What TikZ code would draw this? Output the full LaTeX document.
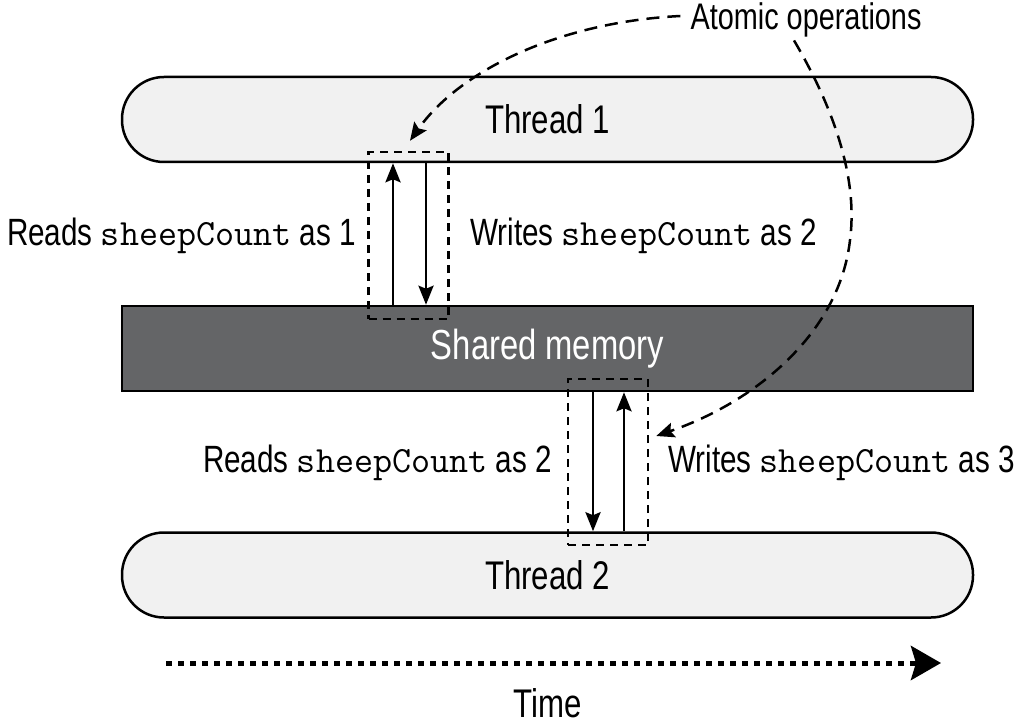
\documentclass[tikz,border=0pt]{standalone}
\usepackage{fontspec}
\setmainfont[FakeStretch=0.78]{Liberation Sans}
\usepackage{tikz}
\usetikzlibrary{arrows.meta,calc}
\usetikzlibrary{positioning}
\definecolor{threadgray}{HTML}{F1F1F1}
\definecolor{memgray}{HTML}{646567}
\newcommand{\sheep}{{\fontsize{37}{40}\selectfont\ttfamily sheepCount}}
\tikzset{
    thread/.style={
           rectangle,
           rounded corners=42pt,
           draw=black, line width=2.5pt,
           fill=threadgray,
           minimum width=851pt,
           minimum height=85pt,
           font=\fontsize{40}{48}\selectfont,
           },
    memory/.style={
           rectangle,
           draw=black, line width=2.5pt,
           fill=memgray,
           text=white,
           minimum width=851pt,
           minimum height=85pt,
           font=\fontsize{42}{48}\selectfont,
           },
    atombox/.style={
           rectangle,
           draw=black, line width=2.5pt,
           dash pattern=on 8pt off 6pt,
           minimum width=80pt,
           inner sep=0,
           },
    pil/.style={
           -{Stealth[length=19pt,width=15pt,inset=3pt]},
           line width=2.8pt,
           },
    curve/.style={
           -{Stealth[length=18pt,width=15pt,inset=3pt]},
           line width=2.5pt,
           dash pattern=on 13pt off 8pt,
           },
    lbl/.style={
           inner sep=0,
           font=\fontsize{38}{44}\selectfont,
           }
}
\begin{document}
\begin{tikzpicture}[x=1pt,y=-1pt]
\useasboundingbox (0,0) rectangle (1024,727);
% threads and memory
\node[thread] (thread1) at (547.5,119.5) {Thread 1};
\node[memory] (mem) at (547.5,348.5) {Shared memory};
\node[thread] (thread2) at (547.5,575) {Thread 2};
% atomic boxes
\node[atombox, minimum height=167pt] (atom1) at (408.5,235.5) {};
\node[atombox, minimum height=166pt] (atom2) at (608,462) {};
\coordinate (r1) at ([xshift=-15.5pt]atom1.center);
\coordinate (w1) at ([xshift=17.5pt]atom1.center);
\coordinate (r2) at ([xshift=-15pt]atom2.center);
\coordinate (w2) at ([xshift=16pt]atom2.center);
\draw[pil] (r1 |- mem.north) -- (r1 |- thread1.south);
\draw[pil] (w1 |- thread1.south) -- (w1 |- mem.north);
\draw[pil] (r2 |- mem.south) -- (r2 |- thread2.north);
\draw[pil] (w2 |- thread2.north) -- (w2 |- mem.south);
% labels
\node[lbl, anchor=east] (rd1) at (356,236) {Reads \sheep{} as 1};
\node[lbl, anchor=west] (wr1) at (470,236) {Writes \sheep{} as 2};
\node[lbl, anchor=east] (rd2) at (552,463) {Reads \sheep{} as 2};
\node[lbl, anchor=west] (wr2) at (668,463) {Writes \sheep{} as 3};
\node[lbl, font=\fontsize{37}{44}\selectfont] (atomic) at (806,20) {Atomic operations};
% pointers to the boxes
\draw[curve] ([xshift=-10pt,yshift=4pt]atomic.west) .. controls (560,22) and (460,70) .. ([xshift=1.5pt,yshift=10pt]atom1.north);
\draw[curve] ([xshift=-12pt,yshift=-3pt]atomic.south) .. controls (835,110) and (858,180) .. (850,240)
      .. controls (840,330) and (760,400) .. ([xshift=7pt,yshift=26pt]atom2.east);
% time axis
\coordinate (t0) at (166,663);
\coordinate (t1) at (941,663);
\draw[line width=5pt, dash pattern=on 6pt off 6pt, -{Stealth[length=30pt,width=34pt,inset=5pt]}] (t0) -- (t1);
\node[lbl, font=\fontsize{40}{48}\selectfont] (time) at (548,703) {Time};
\end{tikzpicture}
\end{document}
